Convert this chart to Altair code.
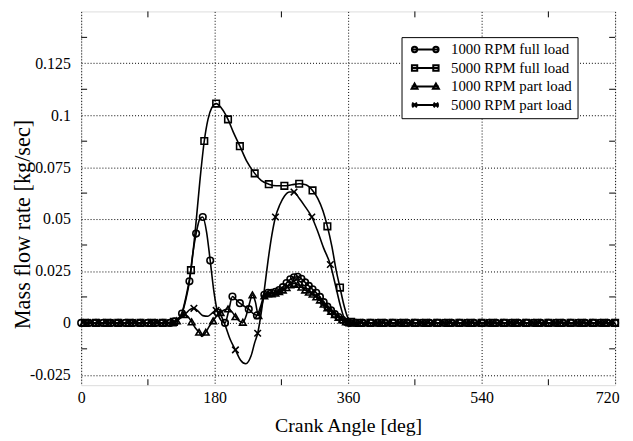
import altair as alt
import pandas as pd

SERIES = ["1000 RPM full load", "5000 RPM full load", "1000 RPM part load", "5000 RPM part load"]

# ---- 1000 RPM full load (circles)
A_X = [0, 10, 20, 30, 40, 50, 60, 70, 80, 90, 100, 110, 120,
       126, 131, 136, 141, 146, 150, 155, 160, 164, 169, 174, 179, 184, 189, 194, 199, 204, 209, 214, 220,
       226, 232, 237, 242, 247, 252, 257, 262, 267, 272, 277, 282, 287, 292, 297, 302, 307, 312, 317, 322,
       327, 332, 337, 342, 347, 352, 357, 362,
       370, 380, 390, 400, 410, 420, 430, 440, 450, 460, 470, 480, 490, 500, 510, 520, 530, 540, 550, 560,
       570, 580, 590, 600, 610, 620, 630, 640, 650, 660, 670, 680, 690, 700, 710, 720]
A_Y = [0, 0, 0, 0, 0, 0, 0, 0, 0, 0, 0, 0, 0,
       0.0008, 0.002, 0.0045, 0.011, 0.020, 0.032, 0.043, 0.050, 0.051, 0.044, 0.030, 0.015, 0.005, 0.001, 0.0,
       0.006, 0.0127, 0.0112, 0.0095, 0.008, 0.0066, 0.0045, 0.0036, 0.008, 0.0135, 0.0145, 0.0145, 0.015,
       0.0158, 0.0172, 0.0192, 0.021, 0.022, 0.0222, 0.0212, 0.0195, 0.0178, 0.0162, 0.0145, 0.0125, 0.010,
       0.0078, 0.006, 0.0042, 0.0028, 0.0015, 0.0005, 0.0,
       0, 0, 0, 0, 0, 0, 0, 0, 0, 0, 0, 0, 0, 0, 0, 0, 0, 0, 0, 0,
       0, 0, 0, 0, 0, 0, 0, 0, 0, 0, 0, 0, 0, 0, 0, 0]
A_NOMARK = [131, 141, 150, 160, 169, 179, 189, 199, 209, 220, 232, 242]

# ---- 5000 RPM full load (squares)
B_X = [5, 20, 35, 50, 65, 80, 95, 110, 125,
       131, 136, 141, 148, 154, 160, 166, 171, 176, 182, 189, 198, 205, 214, 223, 234, 243, 253, 263, 274,
       284, 294, 303, 312, 319, 326, 332, 338, 344, 349, 354, 359, 364, 368,
       375, 390, 405, 420, 435, 450, 465, 480, 495, 510, 525, 540, 555, 570, 585, 600, 615, 630, 645, 660,
       675, 690, 705, 720]
B_Y = [0, 0, 0, 0, 0, 0, 0, 0, 0.0005,
       0.002, 0.005, 0.012, 0.0254, 0.045, 0.068, 0.0876, 0.098, 0.1035, 0.1056, 0.1035, 0.098, 0.092, 0.0851,
       0.078, 0.072, 0.0685, 0.0668, 0.066, 0.066, 0.0665, 0.067, 0.0665, 0.0638, 0.060, 0.054, 0.0465, 0.037,
       0.025, 0.017, 0.009, 0.003, 0.0005, -0.0005,
       0, 0, 0, 0, 0, 0, 0, 0, 0, 0, 0, 0, 0, 0, 0, 0, 0, 0, 0, 0,
       0, 0, 0, 0]
B_NOMARK = [131, 136, 141, 154, 160, 171, 176, 189, 205, 223, 243, 263, 284, 303, 319, 326, 338, 344,
            354, 359, 368]

# ---- 1000 RPM part load (triangles)
C_X = [3, 13, 23, 33, 43, 53, 63, 73, 83, 93, 103, 113, 123,
       129, 134, 139, 144, 149, 154, 159, 163, 168, 173, 178, 183, 188, 193, 198, 203, 208, 213, 218, 223,
       227, 231, 235, 239, 243, 247, 252, 257, 262, 267, 272, 277, 282, 287, 292, 297, 302, 307, 312, 317,
       322, 327, 332, 337, 342, 347, 352, 357, 362,
       367, 377, 387, 397, 407, 417, 427, 437, 447, 457, 467, 477, 487, 497, 507, 517, 527, 537, 547, 557,
       567, 577, 587, 597, 607, 617, 627, 637, 647, 657, 667, 677, 687, 697, 707, 717]
C_Y = [0, 0, 0, 0, 0, 0, 0, 0, 0, 0, 0, 0, 0,
       0.001, 0.003, 0.004, 0.003, 0.0005, -0.0025, -0.0045, -0.0065, -0.0045, -0.0015, 0.001, 0.0035, 0.005,
       0.0062, 0.0067, 0.0055, 0.003, 0.001, 0.0003, 0.004, 0.0095, 0.0135, 0.010, 0.0035, 0.0075, 0.013,
       0.014, 0.014, 0.0143, 0.015, 0.0158, 0.017, 0.0183, 0.019, 0.0185, 0.0172, 0.0158, 0.0148, 0.0138,
       0.0125, 0.011, 0.009, 0.0072, 0.0055, 0.004, 0.0026, 0.0014, 0.0005, 0.0,
       0, 0, 0, 0, 0, 0, 0, 0, 0, 0, 0, 0, 0, 0, 0, 0, 0, 0, 0, 0,
       0, 0, 0, 0, 0, 0, 0, 0, 0, 0, 0, 0, 0, 0, 0, 0]
C_NOMARK = [134, 144, 154, 163, 173, 183, 193, 203, 213, 223, 227, 235, 243]

# ---- 5000 RPM part load (crosses)
D_X = [8, 23, 38, 53, 68, 83, 98, 113,
       126, 133, 141, 147, 152, 158, 164, 171, 177, 182, 187, 194, 201, 208, 215, 222, 229, 234, 238, 242,
       247, 252, 257, 262, 268, 274, 281, 287, 294, 302, 311, 319, 327, 336, 343, 349, 354, 359, 364,
       370, 385, 400, 415, 430, 445, 460, 475, 490, 505, 520, 535, 550, 565, 580, 595, 610, 625, 640, 655,
       670, 685, 700, 715]
D_Y = [0, 0, 0, 0, 0, 0, 0, 0,
       0.0005, 0.002, 0.0045, 0.0065, 0.007, 0.0055, 0.0035, 0.0032, 0.0048, 0.006, 0.0045, -0.001, -0.008,
       -0.013, -0.018, -0.0197, -0.016, -0.0095, -0.005, 0.003, 0.016, 0.030, 0.042, 0.051, 0.057, 0.061,
       0.063, 0.063, 0.060, 0.056, 0.051, 0.044, 0.036, 0.0281, 0.018, 0.009, 0.003, 0.0005, 0.0,
       0, 0, 0, 0, 0, 0, 0, 0, 0, 0, 0, 0, 0, 0, 0, 0, 0, 0, 0, 0,
       0, 0, 0, 0]
D_NOMARK = [133, 141, 147, 158, 164, 171, 177, 187, 194, 201, 215, 222, 229, 234, 242, 247, 252, 257, 268,
            274, 281, 294, 302, 319, 327, 343, 349, 354, 364]

X_TICKS = [0, 180, 360, 540, 720]
Y_TICKS = [-0.025, 0, 0.025, 0.05, 0.075, 0.1, 0.125]
X_MINOR = [90, 270, 450, 630]
Y_MINOR = [-0.0125, 0.0125, 0.0375, 0.0625, 0.0875, 0.1125, 0.1375]

FONT = "Liberation Serif"

frames = []
for name, xs, ys, nomark in [(SERIES[0], A_X, A_Y, A_NOMARK), (SERIES[1], B_X, B_Y, B_NOMARK),
                             (SERIES[2], C_X, C_Y, C_NOMARK), (SERIES[3], D_X, D_Y, D_NOMARK)]:
    f = pd.DataFrame({"angle": xs, "flow": ys})
    f["series"] = name
    f["marker"] = ~f["angle"].isin(nomark)
    frames.append(f)
df = pd.concat(frames, ignore_index=True)
pts = df[df["marker"]]

xscale = alt.Scale(domain=[0, 720], nice=False, zero=False)
yscale = alt.Scale(domain=[-0.03, 0.15], nice=False, zero=False)

xaxis = alt.Axis(values=X_TICKS, title="Crank Angle [deg]", grid=True, ticks=False, domain=False,
                 labelFont=FONT, labelFontSize=16, labelColor="black", labelPadding=5,
                 labelFlush=True, labelFlushOffset=4,
                 titleFont=FONT, titleFontSize=20, titleFontWeight="normal", titleColor="black",
                 titleY=41, titleBaseline="middle",
                 gridColor="black", gridDash=[1, 2], gridWidth=1, gridOpacity=1)
yaxis = alt.Axis(values=Y_TICKS, title="Mass flow rate [kg/sec]", grid=True, ticks=False, domain=False,
                 labelExpr="datum.value < 0 ? '-' + format(-datum.value, '.3~f') : format(datum.value, '.3~f')",
                 labelFont=FONT, labelFontSize=16, labelColor="black", labelPadding=11,
                 titleFont=FONT, titleFontSize=22.5, titleFontWeight="normal", titleColor="black",
                 titleAngle=270, titleX=-59, titleY=215, titleAlign="center", titleBaseline="middle",
                 gridColor="black", gridDash=[1, 2], gridWidth=1, gridOpacity=1)

X = alt.X("angle:Q", scale=xscale, axis=xaxis)
Y = alt.Y("flow:Q", scale=yscale, axis=yaxis)

XPATH = "M-1,-1L1,1M-1,1L1,-1"
MARK_SHAPES = ["circle", "square", "triangle-up", XPATH]
LEG_SHAPES = [
    "M-0.77,0L8.43,0M-0.67,0A0.9,0.9 0 1,0 1.13,0A0.9,0.9 0 1,0 -0.67,0"
    "M6.53,0A0.9,0.9 0 1,0 8.33,0A0.9,0.9 0 1,0 6.53,0",
    "M-0.77,0L8.43,0M-0.67,-0.9L1.13,-0.9L1.13,0.9L-0.67,0.9Z"
    "M6.53,-0.9L8.33,-0.9L8.33,0.9L6.53,0.9Z",
    "M-0.77,0L8.43,0M-0.77,0.8L0.23,-1L1.23,0.8Z"
    "M6.43,0.8L7.43,-1L8.43,0.8Z",
    "M-0.77,0L8.43,0M-0.57,-0.8L1.03,0.8M-0.57,0.8L1.03,-0.8"
    "M6.63,-0.8L8.23,0.8M6.63,0.8L8.23,-0.8",
]

lines = alt.Chart(df).mark_line(interpolate="monotone", color="black", strokeWidth=1.6).encode(
    x=X, y=Y, detail="series:N", order="angle:Q")

points = alt.Chart(pts).mark_point(filled=False, color="black", strokeWidth=1.6, size=44, opacity=1).encode(
    x=X, y=Y,
    shape=alt.Shape("series:N", scale=alt.Scale(domain=SERIES, range=MARK_SHAPES), legend=None))

legend_layer = alt.Chart(pts).mark_point(filled=False, color="black", opacity=0).encode(
    x=X, y=Y,
    shape=alt.Shape("series:N", scale=alt.Scale(domain=SERIES, range=LEG_SHAPES),
                    legend=alt.Legend(title=None, orient="none", legendX=324, legendY=26,
                                      padding=5, strokeColor="black", fillColor="white",
                                      labelFont=FONT, labelFontSize=15, labelColor="black",
                                      symbolSize=36, symbolStrokeWidth=2, symbolStrokeColor="black",
                                      labelOffset=30, rowPadding=2.7)))

tx = pd.DataFrame({"angle": X_MINOR})
ty = pd.DataFrame({"flow": Y_MINOR})
tick_bottom = alt.Chart(tx).mark_rule(color="black", strokeWidth=1).encode(
    x=X, y=alt.value(378), y2=alt.value(372))
tick_top = alt.Chart(tx).mark_rule(color="black", strokeWidth=1).encode(
    x=X, y=alt.value(0), y2=alt.value(6))
tick_left = alt.Chart(ty).mark_rule(color="black", strokeWidth=1).encode(
    y=Y, x=alt.value(0), x2=alt.value(6))
tick_right = alt.Chart(ty).mark_rule(color="black", strokeWidth=1).encode(
    y=Y, x=alt.value(540), x2=alt.value(534))

chart = alt.layer(lines, points, legend_layer, tick_bottom, tick_top, tick_left, tick_right).resolve_scale(
    shape="independent"
).properties(
    width=540, height=378,
    padding={"left": 74, "top": 1, "right": 10, "bottom": 53},
    autosize=alt.AutoSizeParams(type="none"),
).configure_view(stroke="black", strokeWidth=1).configure(background="white")

chart.save("out.html", embed_options={"renderer": "svg", "actions": False})
